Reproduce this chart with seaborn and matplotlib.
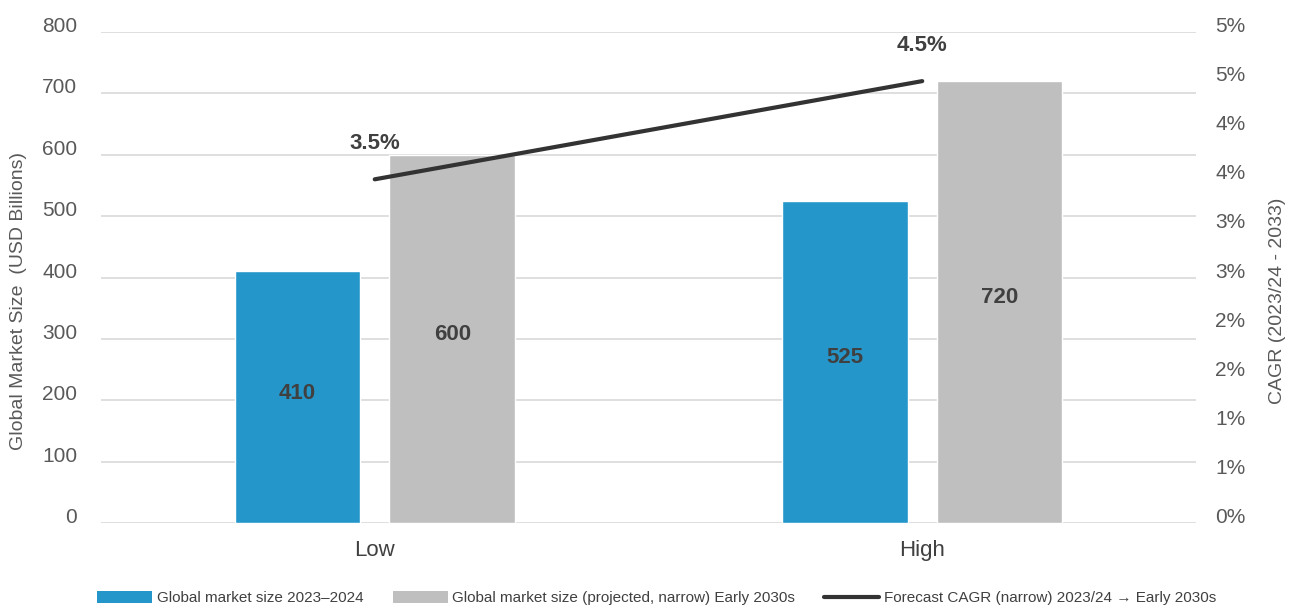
import math
import numpy as np
import pandas as pd
import matplotlib
matplotlib.use("Agg")
import matplotlib.pyplot as plt
from matplotlib.lines import Line2D
from matplotlib.patches import Patch
from matplotlib.transforms import ScaledTranslation
import seaborn as sns

# ---- data ----
categories = ["Low", "High"]
size_2023_24 = [410, 525]
size_early_2030s = [600, 720]
cagr_pct = [3.5, 4.5]
series_names = [
    "Global market size 2023\u20132024",
    "Global market size (projected, narrow) Early 2030s",
]
line_name = "Forecast CAGR (narrow) 2023/24 \u2192 Early 2030s"
left_ticks = [0, 100, 200, 300, 400, 500, 600, 700, 800]
right_ticks = [0, 0.5, 1, 1.5, 2, 2.5, 3, 3.5, 4, 4.5, 5]

BLUE = "#2596CA"
GREY = "#BFBFBF"
LINE = "#333333"
TXT = "#595959"
DARK = "#404040"

sns.set_theme(style="white")
plt.rcParams["font.family"] = ["Liberation Sans", "DejaVu Sans"]

df = pd.DataFrame({
    "category": categories * 2,
    "series": [series_names[0]] * 2 + [series_names[1]] * 2,
    "value": size_2023_24 + size_early_2030s,
})

fig = plt.figure(figsize=(12.98, 6.11), dpi=100)
ax = fig.add_axes([0.0778, 0.144, 0.8436, 0.8036])

sns.barplot(data=df, x="category", y="value", hue="series",
            palette=[BLUE, GREY], width=0.566, gap=0.19,
            saturation=1, legend=False, ax=ax)

ax.set_xlim(-0.5, 1.5)
ax.set_ylim(0, 800)
ax.set_yticks(left_ticks)
ax.set_yticklabels([str(v) for v in left_ticks])
ax.yaxis.grid(True, color="#D9D9D9", linewidth=1.2)
ax.set_axisbelow(True)
for s in ax.spines.values():
    s.set_visible(False)
ax.tick_params(axis="y", length=0, pad=17, labelsize=15, labelcolor=TXT)
ax.tick_params(axis="x", length=0, pad=12, labelsize=16, labelcolor=DARK)
ax.set_xlabel("")
ax.set_ylabel("Global Market Size  (USD Billions)", fontsize=14, color=TXT)
ax.yaxis.set_label_coords(-0.0676, 0.452)

# value labels centred in each bar
for cont in ax.containers:
    for bar in cont:
        h = bar.get_height()
        ax.annotate(f"{h:.0f}", (bar.get_x() + bar.get_width() / 2, h / 2),
                    xytext=(0, 3), textcoords="offset points",
                    ha="center", va="center", fontsize=16, fontweight="bold",
                    color=DARK)

# CAGR line on the secondary axis
ax2 = ax.twinx()
sns.lineplot(x=np.arange(len(categories)), y=cagr_pct, color=LINE,
             linewidth=3, ax=ax2, legend=False)
ax2.set_ylim(0, 5)
ax2.set_yticks(right_ticks)
ax2.set_yticklabels([f"{int(math.floor(v + 0.5))}%" for v in right_ticks])
ax2.tick_params(axis="y", length=0, pad=14, labelsize=15, labelcolor=TXT)
ax2.set_ylabel("CAGR (2023/24 - 2033)", fontsize=14, color=TXT)
ax2.yaxis.set_label_coords(1.0667, 0.452)
for s in ax2.spines.values():
    s.set_visible(False)
ax2.grid(False)
for i, v in enumerate(cagr_pct):
    ax2.annotate(f"{v}%", (i, v), xytext=(0, 26), textcoords="offset points",
                 ha="center", va="center", fontsize=16, fontweight="bold", color=DARK)

# tick labels sit slightly above their gridlines
lift = ScaledTranslation(0, 0.075, fig.dpi_scale_trans)
for a in (ax, ax2):
    for t in a.yaxis.get_major_ticks():
        t.label1.set_transform(t.label1.get_transform() + lift)
        t.label2.set_transform(t.label2.get_transform() + lift)

handles = [
    Patch(facecolor=BLUE, edgecolor="none"),
    Patch(facecolor=GREY, edgecolor="none"),
    Line2D([0], [0], color=LINE, linewidth=3),
]
fig.legend(handles, series_names + [line_name], loc="center left",
           bbox_to_anchor=(0.0703, 1 - 598 / 611), ncol=3, frameon=False,
           borderaxespad=0, fontsize=11, handlelength=3.6, handleheight=0.8,
           handletextpad=0.3, columnspacing=1.9, labelcolor=DARK)

fig.savefig("out.png", dpi=100)
